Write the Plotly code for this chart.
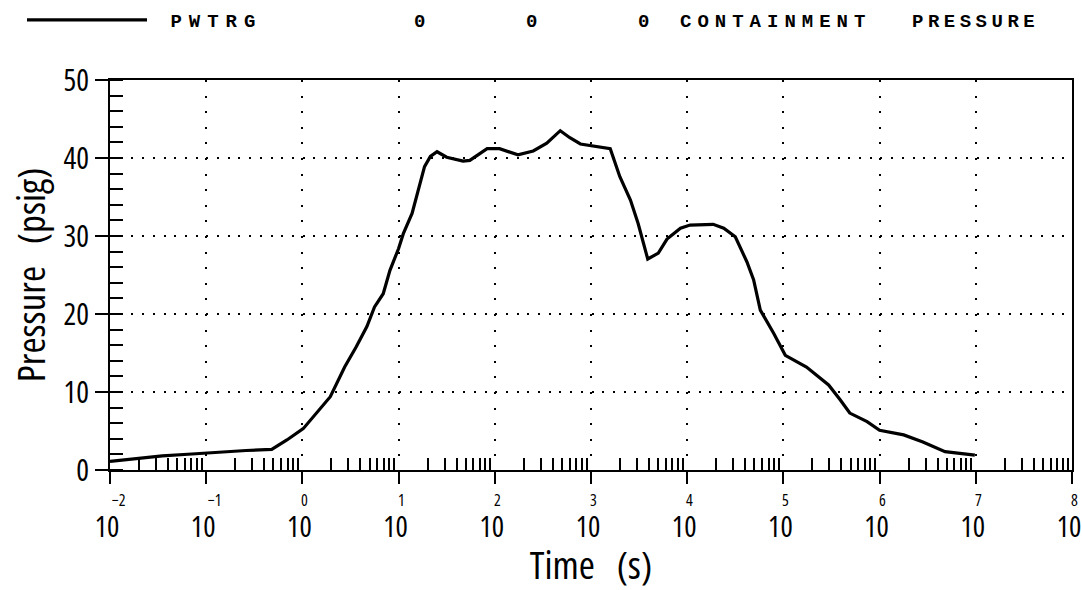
import plotly.graph_objects as go

# ---- data ----
time_s = [0.01, 0.019, 0.035, 0.071, 0.14, 0.26, 0.48, 0.69, 1.02, 1.29, 1.95, 2.75,
          3.63, 4.68, 5.62, 6.92, 8.13, 10.0, 11.2, 13.8, 15.8, 18.6, 21.4, 25.1,
          31.6, 46.8, 55.0, 83.2, 112, 174, 251, 347, 479, 603, 776, 1230, 1585,
          1995, 2570, 3090, 3467, 3890, 5012, 6166, 8511, 10715, 18620, 23990,
          31620, 41690, 48980, 57540, 79430, 104700, 173800, 295100, 389000,
          489800, 741300, 1.0e6, 1.78e6, 2.82e6, 4.79e6, 7.41e6, 9.77e6]
pressure_psig = [1.1, 1.5, 1.8, 2.05, 2.3, 2.5, 2.65, 3.85, 5.3, 6.8, 9.4, 13.2,
                 15.8, 18.4, 20.9, 22.6, 25.6, 28.4, 30.3, 32.9, 35.5, 38.9, 40.2, 40.8,
                 40.1, 39.6, 39.7, 41.2, 41.2, 40.4, 40.9, 41.9, 43.5, 42.6, 41.8, 41.45, 41.2,
                 37.6, 34.6, 31.6, 29.3, 27.05, 27.8, 29.6, 31.0, 31.4, 31.5, 31.0,
                 29.9, 26.7, 24.4, 20.5, 17.5, 14.7, 13.2, 10.9, 9.0,
                 7.3, 6.2, 5.1, 4.5, 3.6, 2.35, 2.1, 1.9]

series_name = "PWTRG"
legend_extra = ["0", "0", "0", "CONTAINMENT", "PRESSURE"]
x_decades = [-2, -1, 0, 1, 2, 3, 4, 5, 6, 7, 8]
x_tick_base = "10"
y_ticks = [0, 10, 20, 30, 40, 50]
x_title = "Time\u00a0\u00a0\u00a0(s)"
y_title = "Pressure\u00a0\u00a0\u00a0(psig)"

COND = "Open Sans, DejaVu Sans Condensed, sans-serif"
MONO = "Liberation Mono, DejaVu Sans Mono, monospace"

# plot-area geometry in pixels (used only to place header text)
PL, PW, PT, PH = 110, 962, 80, 390


def cond(s):
    return f"<span style='font-stretch:condensed'>{s}</span>"


fig = go.Figure()
fig.add_trace(go.Scatter(
    x=time_s, y=pressure_psig, mode="lines", name=series_name,
    line=dict(color="black", width=3.2), showlegend=True))

tickvals = [10.0 ** d for d in x_decades]
minor_vals = [k * 10.0 ** d for d in x_decades[:-1] for k in range(2, 10)]

fig.update_xaxes(
    type="log", range=[x_decades[0], x_decades[-1]], automargin=False,
    tickmode="array", tickvals=tickvals, ticktext=[cond(x_tick_base)] * len(tickvals),
    ticks="outside", ticklen=12, tickwidth=2, tickcolor="black",
    ticklabelstandoff=18, ticklabelshift=-3,
    tickfont=dict(family=COND, size=29, color="black"),
    showline=True, linecolor="black", linewidth=2, mirror=True,
    showgrid=True, gridcolor="black", gridwidth=1.5, griddash="2px,13.6px",
    minor=dict(tickmode="array", tickvals=minor_vals, ticks="inside", ticklen=12,
               tickwidth=1.5, tickcolor="black", showgrid=False),
    zeroline=False,
    title=dict(text=cond(x_title), font=dict(family=COND, size=39, color="black"), standoff=3),
)
fig.update_yaxes(
    range=[0, 50], automargin=False, tickmode="array", tickvals=y_ticks,
    ticktext=[cond(v) for v in y_ticks],
    ticks="outside", ticklen=13, tickwidth=2, tickcolor="black",
    tickfont=dict(family=COND, size=30, color="black"),
    showline=True, linecolor="black", linewidth=2, mirror=True,
    showgrid=True, gridcolor="black", gridwidth=1.5, griddash="2px,8.7px",
    minor=dict(dtick=2, ticks="inside", ticklen=13, tickwidth=2, tickcolor="black",
               showgrid=False),
    zeroline=False,
    title=dict(text=cond(y_title), font=dict(family=COND, size=39, color="black"), standoff=6),
)

# exponent labels above the "10" tick labels
for d in x_decades:
    fig.add_annotation(x=d, y=0, xref="x", yref="paper",
                       text=cond(str(d).replace("-", "−")),
                       showarrow=False, xanchor="left", yanchor="middle",
                       xshift=(0 if d < 0 else -3), yshift=-30,
                       font=dict(family=COND, size=16, color="black"))

# top legend line (extra labels)
legend_x_px = [412, 524, 636, 678, 910]
legend_spacing = [5, 5, 5, 6, 4.5]
for txt, px, sp in zip(legend_extra, legend_x_px, legend_spacing):
    fig.add_annotation(x=(px - PL) / PW, y=1 + (PT - 22) / PH, xref="paper", yref="paper",
                       text=f"<span style='letter-spacing:{sp}px'>{txt}</span>",
                       showarrow=False, xanchor="left", yanchor="middle",
                       font=dict(family=MONO, size=19, color="black", weight="bold"))

fig.update_layout(
    width=1082, height=590,
    margin=dict(l=PL, r=1082 - PL - PW, t=PT, b=590 - PT - PH),
    paper_bgcolor="white", plot_bgcolor="white",
    showlegend=True,
    legend=dict(xref="container", yref="container",
                x=22 / 1082, y=1 - 20 / 590, xanchor="left", yanchor="middle",
                orientation="h", itemwidth=120, bgcolor="rgba(0,0,0,0)",
                font=dict(family=MONO, size=19, color="black", weight="bold"),
                itemclick=False, itemdoubleclick=False),
)
fig.data[0].name = f"<span style='letter-spacing:7px'>\u00a0{series_name}</span>"

fig.write_html("out.html")
